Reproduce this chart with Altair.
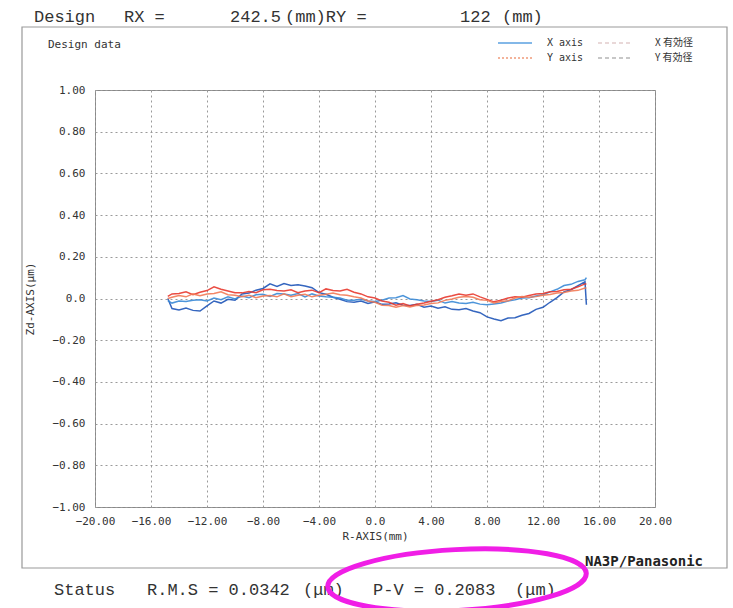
import altair as alt
import pandas as pd

# ---------------- data ----------------
r_pos = [-14.8, -14.5, -14.0, -13.5, -13.0, -12.5, -12.0, -11.5, -11.0, -10.5, -10.0,
         -9.5, -9.0, -8.5, -8.0, -7.5, -7.0, -6.5, -6.0, -5.5, -5.0, -4.5, -4.0,
         -3.5, -3.0, -2.5, -2.0, -1.5, -1.0, -0.5, 0.0, 0.5, 1.0, 1.5, 2.0, 2.5,
         3.0, 3.5, 4.0, 4.5, 5.0, 5.5, 6.0, 6.5, 7.0, 7.5, 8.0, 8.5, 9.0, 9.5,
         10.0, 10.5, 11.0, 11.5, 12.0, 12.5, 13.0, 13.5, 14.0, 14.5, 15.0, 15.1]

x_axis = [0.0, -0.048, -0.055, -0.046, -0.057, -0.06, -0.035, -0.012, -0.022, -0.004, -0.008,
          0.022, 0.026, 0.04, 0.048, 0.07, 0.058, 0.072, 0.062, 0.066, 0.06, 0.052, 0.028,
          0.02, 0.006, -0.004, -0.015, -0.018, -0.012, -0.024, -0.016, -0.028, -0.026, -0.02, -0.032, -0.034,
          -0.028, -0.042, -0.036, -0.047, -0.04, -0.052, -0.054, -0.048, -0.06, -0.068, -0.088, -0.098, -0.107, -0.094,
          -0.092, -0.08, -0.072, -0.052, -0.042, -0.018, 0.004, 0.032, 0.042, 0.062, 0.08, -0.03]

x_eff = [-0.01, -0.022, -0.012, -0.014, -0.008, -0.006, -0.012, 0.002, -0.006, 0.008, -0.002,
         0.012, 0.004, 0.018, 0.02, 0.01, 0.024, 0.022, 0.016, 0.024, 0.008, 0.022, 0.012,
         0.008, 0.006, 0.002, -0.008, -0.008, -0.004, -0.012, -0.014, -0.008, 0.002, 0.004, 0.014, -0.002,
         -0.006, -0.012, -0.014, -0.008, -0.022, -0.014, -0.022, -0.024, -0.018, -0.027, -0.03, -0.026, -0.022, -0.012,
         -0.006, 0.002, 0.004, 0.012, 0.018, 0.032, 0.044, 0.062, 0.068, 0.082, 0.09, 0.1]

y_axis = [0.01, 0.022, 0.024, 0.032, 0.018, 0.03, 0.038, 0.056, 0.044, 0.036, 0.028,
          0.027, 0.034, 0.028, 0.042, 0.044, 0.038, 0.036, 0.042, 0.028, 0.036, 0.04, 0.028,
          0.046, 0.038, 0.036, 0.044, 0.03, 0.022, 0.008, 0.002, -0.012, -0.018, -0.032, -0.024, -0.036,
          -0.028, -0.022, -0.013, -0.006, 0.006, 0.013, 0.022, 0.016, 0.022, 0.008, -0.004, -0.016, -0.008, 0.002,
          0.008, 0.006, 0.014, 0.022, 0.024, 0.032, 0.034, 0.042, 0.044, 0.056, 0.07, 0.07]

y_eff = [0.0, 0.006, 0.014, 0.008, 0.022, 0.013, 0.022, 0.024, 0.032, 0.018, 0.016,
         0.008, 0.016, 0.004, 0.012, 0.014, 0.008, 0.022, 0.008, 0.016, 0.02, 0.008, 0.016,
         0.02, 0.026, 0.018, 0.016, 0.008, 0.002, -0.012, -0.018, -0.032, -0.034, -0.042, -0.034, -0.041,
         -0.033, -0.031, -0.024, -0.021, -0.009, -0.002, 0.006, 0.009, 0.006, -0.006, -0.009, -0.021, -0.014, -0.011,
         0.002, 0.009, 0.006, 0.009, 0.016, 0.019, 0.026, 0.029, 0.036, 0.039, 0.05, 0.05]

series_names = ["X axis", "X 有効径", "Y axis", "Y 有効径"]
series_colors = ["#1f55b8", "#3a8ad6", "#e8392e", "#f27a55"]
x_ticks = [-20, -16, -12, -8, -4, 0, 4, 8, 12, 16, 20]
y_ticks = [-1.0, -0.8, -0.6, -0.4, -0.2, 0.0, 0.2, 0.4, 0.6, 0.8, 1.0]

rows = []
for name, vals in zip(series_names, [x_axis, x_eff, y_axis, y_eff]):
    for i, (r, z) in enumerate(zip(r_pos, vals)):
        rows.append({"series": name, "r": r, "z": z, "order": i})
df = pd.DataFrame(rows)

W, H = 560, 417
one = alt.Data(values=[{}])

lines = alt.Chart(df).mark_line(strokeWidth=1.5, opacity=0.9).encode(
    x=alt.X("r:Q", scale=alt.Scale(domain=[-20, 20], nice=False),
            axis=alt.Axis(values=x_ticks, title="R-AXIS(mm)", grid=True, gridDash=[2, 3],
                          gridColor="#9a9a9a", ticks=False, domain=False, labelOverlap=False,
                          labelFlush=False,
                          labelExpr="datum.value == 0 ? '0.0' : format(datum.value, '.2f')",
                          labelFont="DejaVu Sans Mono", labelFontSize=11, labelColor="#333",
                          labelPadding=8, titleFont="DejaVu Sans Mono", titleFontSize=11,
                          titleFontWeight="normal", titleColor="#333", titlePadding=4)),
    y=alt.Y("z:Q", scale=alt.Scale(domain=[-1, 1], nice=False),
            axis=alt.Axis(values=y_ticks, title="Zd-AXIS(μm)", grid=True, gridDash=[2, 3],
                          gridColor="#9a9a9a", ticks=False, domain=False, labelOverlap=False,
                          labelFlush=False,
                          labelExpr="datum.value == 0 ? '0.0' : format(datum.value, '.2f')",
                          labelFont="DejaVu Sans Mono", labelFontSize=11, labelColor="#333",
                          labelPadding=10, titleFont="DejaVu Sans Mono", titleFontSize=11,
                          titleFontWeight="normal", titleColor="#333", titleX=-60, titleY=H / 2)),
    color=alt.Color("series:N", scale=alt.Scale(domain=series_names, range=series_colors), legend=None),
    order="order:Q",
    detail="series:N",
)


def text(t, x, y, size=12, font="DejaVu Sans Mono", align="left", weight="normal", color="#333"):
    return alt.Chart(one).mark_text(text=t, align=align, baseline="middle", fontSize=size,
                                    font=font, fontWeight=weight, color=color).encode(
        x=alt.value(x), y=alt.value(y))


def hline(x1, x2, y, color, dash=None, width=1.5):
    kw = dict(color=color, strokeWidth=width)
    if dash:
        kw["strokeDash"] = dash
    return alt.Chart(one).mark_rule(**kw).encode(x=alt.value(x1), x2=alt.value(x2), y=alt.value(y))


ox, oy = 95, 90  # plot origin in page pixels
HF = "Liberation Mono"

layers = [lines]
# outer frame
layers.append(alt.Chart(one).mark_rect(fill="transparent", stroke="#999", strokeWidth=1.2).encode(
    x=alt.value(22 - ox), x2=alt.value(727 - ox), y=alt.value(27 - oy), y2=alt.value(568 - oy)))
# header
layers += [
    text("Design", 34 - ox, 17 - oy, 17, HF),
    text("RX =", 124 - ox, 17 - oy, 17, HF),
    text("242.5", 230 - ox, 17 - oy, 17, HF),
    text("(mm)RY =", 285 - ox, 17 - oy, 17, HF),
    text("122", 460 - ox, 17 - oy, 17, HF),
    text("(mm)", 502 - ox, 17 - oy, 17, HF),
    text("Design data", 48 - ox, 45 - oy, 11),
]
# legend
layers += [
    hline(498 - ox, 532 - ox, 43 - oy, "#5aa0e0"),
    text("X axis", 547 - ox, 43 - oy, 10),
    hline(598 - ox, 630 - ox, 43 - oy, "#e2cccc", [4, 3]),
    text("X 有効径", 655 - ox, 43 - oy, 10, "Noto Sans CJK JP"),
    hline(498 - ox, 532 - ox, 58 - oy, "#f09a7a", [2, 2]),
    text("Y axis", 547 - ox, 58 - oy, 10),
    hline(598 - ox, 630 - ox, 58 - oy, "#b5b5b5", [4, 3]),
    text("Y 有効径", 655 - ox, 58 - oy, 10, "Noto Sans CJK JP"),
]
# footer
layers += [
    text("NA3P/Panasonic", 703 - ox, 562 - oy, 14, "DejaVu Sans Mono", "right", "bold", "#222"),
    text("Status", 54 - ox, 590 - oy, 17, HF),
    text("R.M.S = 0.0342", 147 - ox, 590 - oy, 17, HF),
    text("(μm)", 303 - ox, 590 - oy, 17, HF),
    text("P-V = 0.2083", 373 - ox, 590 - oy, 17, HF),
    text("(μm)", 515 - ox, 590 - oy, 17, HF),
]
# magenta ellipse highlight
ellipse_path = "M -1 0 A 1 0.235 0 1 0 1 0 A 1 0.235 0 1 0 -1 0 Z"
layers.append(alt.Chart(one).mark_point(shape=ellipse_path, filled=False, stroke="#f01ee6",
                                        strokeWidth=5, size=67000, angle=357, opacity=1).encode(
    x=alt.value(457 - ox), y=alt.value(580 - oy)))

chart = alt.layer(*layers).properties(
    width=W, height=H,
    autosize=alt.AutoSizeParams(type="none"),
    padding={"left": ox, "top": oy, "right": 733 - ox - W, "bottom": 608 - oy - H},
    background="white",
).configure_view(stroke="#888", strokeWidth=1)

chart.save("out.html", embed_options={"renderer": "svg", "actions": False})
